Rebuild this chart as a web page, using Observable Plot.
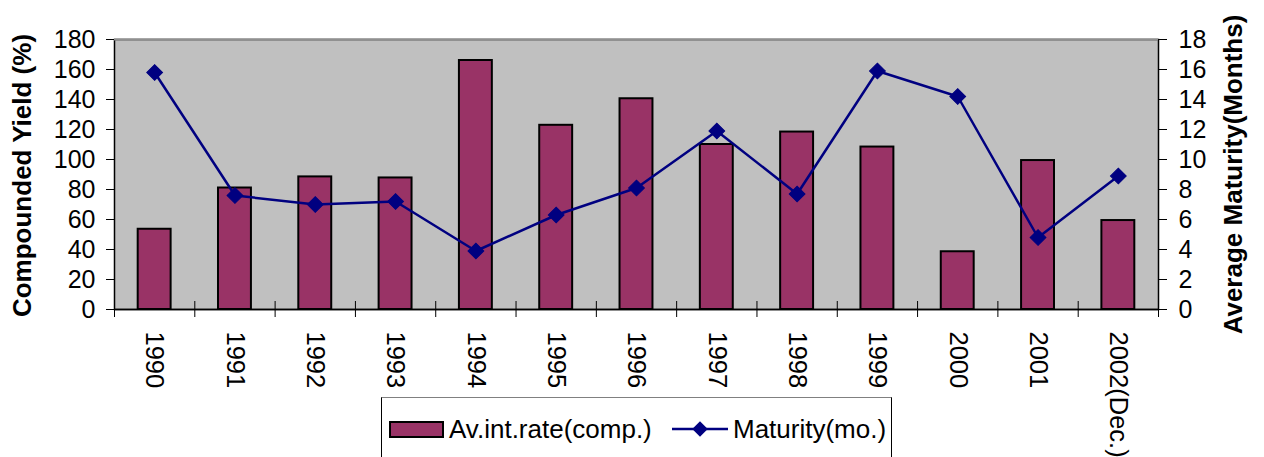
<!DOCTYPE html>
<html>
<head>
<meta charset="utf-8">
<script src="https://cdn.jsdelivr.net/npm/d3@7"></script>
<script src="https://cdn.jsdelivr.net/npm/@observablehq/plot@0.6"></script>
<style>
  html, body { margin: 0; padding: 0; background: #fff; overflow: hidden; }
  #wrap { position: relative; width: 1264px; height: 457px; font-family: Arial, "Liberation Sans", sans-serif; }
  #legend { position: absolute; left: 381px; top: 397px; width: 511px; height: 80px;
            border: 1px solid #000; border-top-color: #808080; box-sizing: border-box; background: #fff; }
  #legend .sw { position: absolute; left: 7px; top: 23px; width: 55px; height: 17px; box-sizing: border-box;
                border: 2px solid #000; background: #993366; }
  #legend .t { position: absolute; top: 16px; font-size: 26px; line-height: 30px; color: #000; white-space: nowrap; }
  #legend svg { position: absolute; left: 290px; top: 21px; }
</style>
</head>
<body>
<div id="wrap"></div>
<script>
const years = ["1990","1991","1992","1993","1994","1995","1996","1997","1998","1999","2000","2001","2002(Dec.)"];
const rate = [53.5, 81, 88.4, 87.7, 166, 122.8, 140.5, 110, 118.3, 108.3, 38.5, 99.3, 59.3];
const maturity = [15.8, 7.6, 7.0, 7.2, 3.9, 6.3, 8.1, 11.9, 7.7, 15.9, 14.2, 4.8, 8.9];
const leftTicks = [0,20,40,60,80,100,120,140,160,180];
const rightTicks = [0,2,4,6,8,10,12,14,16,18];
const leftTitle = "Compounded Yield (%)";
const rightTitle = "Average Maturity(Months)";
const legendLabels = ["Av.int.rate(comp.)", "Maturity(mo.)"];

const data = years.map((y, i) => ({year: y, rate: rate[i], mat: maturity[i]}));
const W = 1264, H = 457, ML = 114, MR = 106, MT = 39, MB = 148;
const step = (W - ML - MR) / years.length;
const font = 'Arial, "Liberation Sans", sans-serif';

const chart = Plot.plot({
  width: W, height: H,
  marginLeft: ML, marginRight: MR, marginTop: MT, marginBottom: MB,
  style: {fontFamily: font, background: "#fff", color: "#000"},
  x: {domain: years, paddingInner: 0.59, paddingOuter: 0.295, round: false, axis: null},
  y: {domain: [0, 180], axis: null},
  marks: [
    Plot.frame({fill: "#c0c0c0", stroke: "#000", strokeWidth: 1.5}),
    Plot.ruleY([180], {stroke: "#909090", strokeWidth: 2}),
    Plot.barY(data, {x: "year", y: "rate", fill: "#993366", stroke: "#000", strokeWidth: 2}),
    Plot.line(data, {x: "year", y: d => d.mat * 10, stroke: "#000080", strokeWidth: 2.5}),
    Plot.dot(data, {x: "year", y: d => d.mat * 10, symbol: "square", rotate: 45, r: 6.3, fill: "#000080", stroke: "#000080", strokeWidth: 1}),
    Plot.ruleY([0], {stroke: "#000", strokeWidth: 1.5}),
    // x boundary ticks (crossing)
    Plot.ruleX(years, {x: d => d, y1: 0, y2: 0, insetTop: -8, insetBottom: -8, dx: -step / 2, stroke: "#000", strokeWidth: 1}),
    Plot.ruleX([years[years.length - 1]], {x: d => d, y1: 0, y2: 0, insetTop: -8, insetBottom: -8, dx: step / 2, stroke: "#000", strokeWidth: 1}),
    // left axis
    Plot.axisY(leftTicks, {anchor: "left", tickSize: 8, tickPadding: 11, fontSize: 25, label: null, stroke: "#000"}),
    // right axis (maturity scaled x10)
    Plot.axisY(rightTicks.map(d => d * 10), {anchor: "right", tickSize: 8, tickPadding: 12, fontSize: 25, label: null, tickFormat: d => d / 10, stroke: "#000"}),
    // x tick labels
    Plot.text(years, {x: d => d, frameAnchor: "bottom", rotate: 90, textAnchor: "start", lineAnchor: "middle", dy: 22, fontSize: 25.5, fill: "#000"}),
    // axis titles
    Plot.text([leftTitle], {frameAnchor: "left", dx: 22 - ML, dy: 1, rotate: -90, text: d => d, fontSize: 26, fontWeight: "bold", fill: "#000", textAnchor: "middle", lineAnchor: "middle"}),
    Plot.text([rightTitle], {frameAnchor: "right", dx: 75, rotate: -90, text: d => d, fontSize: 26, fontWeight: "bold", fill: "#000", textAnchor: "middle", lineAnchor: "middle"})
  ]
});

const wrap = document.getElementById("wrap");
wrap.appendChild(chart);

const legend = document.createElement("div");
legend.id = "legend";
legend.innerHTML = `
  <div class="sw"></div>
  <div class="t" style="left:67px">${legendLabels[0]}</div>
  <svg width="56" height="20"><line x1="0" y1="10" x2="56" y2="10" stroke="#000080" stroke-width="2.5"/>
    <rect x="22.5" y="4.5" width="11" height="11" fill="#000080" transform="rotate(45 28 10)"/></svg>
  <div class="t" style="left:351px">${legendLabels[1]}</div>`;
wrap.appendChild(legend);
</script>
</body>
</html>
